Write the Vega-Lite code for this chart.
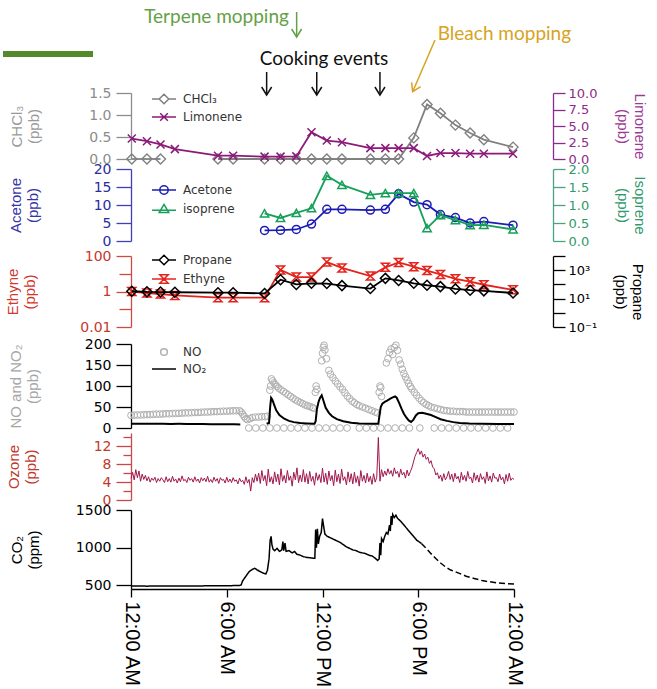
{
"$schema": "https://vega.github.io/schema/vega-lite/v6.json",
"padding": {"left": 0, "top": 0, "right": 12, "bottom": 0},
"background": "white",
"autosize": {"type": "pad"},
"spacing": 0,
"bounds": "flush",
"datasets": {
"ann": [
{"k":"bar","grp":"bar","h":-8.02,"h2":-2.38,"v":34},
{"k":"text","grp":"terpene","h":5.36,"v":71.5,"t":"Terpene mopping"},
{"k":"arrow","grp":"terpene","h":10.38,"v":76,"h2":10.38,"v2":51},
{"k":"text","grp":"cook","h":12.09,"v":29.5,"t":"Cooking events"},
{"k":"arrow","grp":"cook","h":8.5,"v":16,"h2":8.5,"v2":-7},
{"k":"arrow","grp":"cook","h":11.64,"v":16,"h2":11.64,"v2":-7},
{"k":"arrow","grp":"cook","h":15.6,"v":16,"h2":15.6,"v2":-7},
{"k":"text","grp":"bleach","h":23.4,"v":54.5,"t":"Bleach mopping"},
{"k":"arrow","grp":"bleach","h":19.05,"v":48,"h2":17.65,"v2":-3.7}
],
"voc": [
{"s":"CHCl₃","h":0.05,"v":0,"g":1},{"s":"CHCl₃","h":1.0,"v":0,"g":1},{"s":"CHCl₃","h":1.85,"v":0,"g":1},
{"s":"CHCl₃","h":5.45,"v":0,"g":2},{"s":"CHCl₃","h":6.4,"v":0,"g":2},{"s":"CHCl₃","h":8.37,"v":0,"g":2},{"s":"CHCl₃","h":9.37,"v":0,"g":2},{"s":"CHCl₃","h":10.36,"v":0,"g":2},{"s":"CHCl₃","h":11.31,"v":0,"g":2},{"s":"CHCl₃","h":12.27,"v":0,"g":2},{"s":"CHCl₃","h":13.22,"v":0,"g":2},{"s":"CHCl₃","h":15.0,"v":0,"g":2},{"s":"CHCl₃","h":15.94,"v":0,"g":2},{"s":"CHCl₃","h":16.77,"v":0,"g":2},{"s":"CHCl₃","h":17.72,"v":0.48,"g":2},{"s":"CHCl₃","h":18.55,"v":1.24,"g":2},{"s":"CHCl₃","h":19.39,"v":1.04,"g":2},{"s":"CHCl₃","h":20.33,"v":0.77,"g":2},{"s":"CHCl₃","h":21.25,"v":0.59,"g":2},{"s":"CHCl₃","h":22.11,"v":0.44,"g":2},{"s":"CHCl₃","h":23.94,"v":0.27,"g":2},
{"s":"Limonene","h":0.05,"v":3.1},{"s":"Limonene","h":1.0,"v":2.7},{"s":"Limonene","h":1.85,"v":2.2},{"s":"Limonene","h":2.75,"v":1.5},{"s":"Limonene","h":5.45,"v":0.5},{"s":"Limonene","h":6.4,"v":0.5},{"s":"Limonene","h":8.37,"v":0.36},{"s":"Limonene","h":9.37,"v":0.36},{"s":"Limonene","h":10.36,"v":0.4},{"s":"Limonene","h":11.31,"v":4.05},{"s":"Limonene","h":12.27,"v":2.8},{"s":"Limonene","h":13.22,"v":2.55},{"s":"Limonene","h":15.0,"v":1.65},{"s":"Limonene","h":15.94,"v":1.65},{"s":"Limonene","h":16.77,"v":1.65},{"s":"Limonene","h":17.72,"v":1.65},{"s":"Limonene","h":18.55,"v":0.46},{"s":"Limonene","h":19.39,"v":0.9},{"s":"Limonene","h":20.33,"v":0.9},{"s":"Limonene","h":21.25,"v":0.8},{"s":"Limonene","h":22.11,"v":0.8},{"s":"Limonene","h":23.94,"v":0.8},
{"s":"Acetone","h":8.37,"v":2.94},{"s":"Acetone","h":9.37,"v":3.0},{"s":"Acetone","h":10.36,"v":3.2},{"s":"Acetone","h":11.31,"v":4.7},{"s":"Acetone","h":12.27,"v":8.8},{"s":"Acetone","h":13.22,"v":8.8},{"s":"Acetone","h":15.0,"v":8.6},{"s":"Acetone","h":15.94,"v":8.8},{"s":"Acetone","h":16.77,"v":13.1},{"s":"Acetone","h":17.72,"v":10.8},{"s":"Acetone","h":18.55,"v":10.1},{"s":"Acetone","h":19.39,"v":7.35},{"s":"Acetone","h":20.33,"v":6.5},{"s":"Acetone","h":21.25,"v":5.0},{"s":"Acetone","h":22.11,"v":5.4},{"s":"Acetone","h":23.94,"v":4.4},
{"s":"isoprene","h":8.37,"v":0.77},{"s":"isoprene","h":9.37,"v":0.64},{"s":"isoprene","h":10.36,"v":0.78},{"s":"isoprene","h":11.31,"v":0.91},{"s":"isoprene","h":12.27,"v":1.81},{"s":"isoprene","h":13.22,"v":1.56},{"s":"isoprene","h":15.0,"v":1.28},{"s":"isoprene","h":15.94,"v":1.33},{"s":"isoprene","h":16.77,"v":1.33},{"s":"isoprene","h":17.72,"v":1.33},{"s":"isoprene","h":18.55,"v":0.36},{"s":"isoprene","h":19.39,"v":0.72},{"s":"isoprene","h":20.33,"v":0.58},{"s":"isoprene","h":21.25,"v":0.44},{"s":"isoprene","h":22.11,"v":0.45},{"s":"isoprene","h":23.94,"v":0.32},
{"s":"Ethyne","h":0.05,"v":1.0},{"s":"Ethyne","h":1.0,"v":0.82},{"s":"Ethyne","h":1.85,"v":0.72},{"s":"Ethyne","h":2.75,"v":0.6},{"s":"Ethyne","h":5.45,"v":0.45},{"s":"Ethyne","h":6.4,"v":0.45},{"s":"Ethyne","h":8.37,"v":0.45},{"s":"Ethyne","h":9.37,"v":16.5},{"s":"Ethyne","h":10.36,"v":6.5},{"s":"Ethyne","h":11.31,"v":6.5},{"s":"Ethyne","h":12.27,"v":45.6},{"s":"Ethyne","h":13.22,"v":21.2},{"s":"Ethyne","h":15.0,"v":7.4},{"s":"Ethyne","h":15.94,"v":23},{"s":"Ethyne","h":16.77,"v":43.7},{"s":"Ethyne","h":17.72,"v":25},{"s":"Ethyne","h":18.55,"v":15},{"s":"Ethyne","h":19.39,"v":9.1},{"s":"Ethyne","h":20.33,"v":5.2},{"s":"Ethyne","h":21.25,"v":3.6},{"s":"Ethyne","h":22.11,"v":2.4},{"s":"Ethyne","h":23.94,"v":1.24},
{"s":"Propane","h":0.05,"v":33},{"s":"Propane","h":1.0,"v":30},{"s":"Propane","h":1.85,"v":29},{"s":"Propane","h":2.75,"v":28},{"s":"Propane","h":5.45,"v":26},{"s":"Propane","h":6.4,"v":26},{"s":"Propane","h":8.37,"v":23},{"s":"Propane","h":9.37,"v":213},{"s":"Propane","h":10.36,"v":99},{"s":"Propane","h":11.31,"v":120},{"s":"Propane","h":12.27,"v":115},{"s":"Propane","h":13.22,"v":82},{"s":"Propane","h":15.0,"v":51},{"s":"Propane","h":15.94,"v":266},{"s":"Propane","h":16.77,"v":190},{"s":"Propane","h":17.72,"v":120},{"s":"Propane","h":18.55,"v":87},{"s":"Propane","h":19.39,"v":70},{"s":"Propane","h":20.33,"v":48},{"s":"Propane","h":21.25,"v":39},{"s":"Propane","h":22.11,"v":35},{"s":"Propane","h":23.94,"v":25}
],
"nox": [
{"s":"NO","h":0,"v":30},{"s":"NO","h":0.2,"v":30.5},{"s":"NO","h":0.4,"v":31},{"s":"NO","h":0.6,"v":31},{"s":"NO","h":0.8,"v":31.5},{"s":"NO","h":1,"v":32},{"s":"NO","h":1.2,"v":32},{"s":"NO","h":1.4,"v":32.5},{"s":"NO","h":1.6,"v":33},{"s":"NO","h":1.8,"v":33},{"s":"NO","h":2,"v":33.5},{"s":"NO","h":2.2,"v":34},{"s":"NO","h":2.4,"v":34},{"s":"NO","h":2.6,"v":34.5},{"s":"NO","h":2.8,"v":35},{"s":"NO","h":3,"v":35},{"s":"NO","h":3.2,"v":35.5},{"s":"NO","h":3.4,"v":36},{"s":"NO","h":3.6,"v":36},{"s":"NO","h":3.8,"v":36.5},{"s":"NO","h":4,"v":37},{"s":"NO","h":4.2,"v":37},{"s":"NO","h":4.4,"v":37.5},{"s":"NO","h":4.6,"v":38},{"s":"NO","h":4.8,"v":38},{"s":"NO","h":5,"v":38.5},{"s":"NO","h":5.2,"v":39},{"s":"NO","h":5.4,"v":39},{"s":"NO","h":5.6,"v":39.5},{"s":"NO","h":5.8,"v":40},{"s":"NO","h":6,"v":40},{"s":"NO","h":6.2,"v":40.5},{"s":"NO","h":6.4,"v":41},{"s":"NO","h":6.6,"v":41},{"s":"NO","h":6.8,"v":41},{"s":"NO","h":6.9,"v":38},{"s":"NO","h":7,"v":33},{"s":"NO","h":7.1,"v":27},{"s":"NO","h":7.2,"v":22},{"s":"NO","h":7.3,"v":20},{"s":"NO","h":7.45,"v":22},{"s":"NO","h":7.6,"v":25},{"s":"NO","h":7.8,"v":26},{"s":"NO","h":8,"v":26},{"s":"NO","h":8.2,"v":27},{"s":"NO","h":8.4,"v":27},{"s":"NO","h":8.55,"v":28},
{"s":"NO","h":8.7,"v":90},{"s":"NO","h":8.75,"v":100},{"s":"NO","h":8.8,"v":117},{"s":"NO","h":8.88,"v":112},{"s":"NO","h":8.96,"v":107},{"s":"NO","h":9.05,"v":103},{"s":"NO","h":9.15,"v":99},{"s":"NO","h":9.25,"v":95},{"s":"NO","h":9.4,"v":91},{"s":"NO","h":9.55,"v":87},{"s":"NO","h":9.7,"v":83},{"s":"NO","h":9.85,"v":79},{"s":"NO","h":10,"v":75},{"s":"NO","h":10.15,"v":71},{"s":"NO","h":10.3,"v":67},{"s":"NO","h":10.45,"v":64},{"s":"NO","h":10.6,"v":61},{"s":"NO","h":10.75,"v":58},{"s":"NO","h":10.9,"v":55},{"s":"NO","h":11.05,"v":53},{"s":"NO","h":11.2,"v":51},{"s":"NO","h":11.35,"v":49},{"s":"NO","h":11.45,"v":47},
{"s":"NO","h":11.55,"v":85},{"s":"NO","h":11.6,"v":100},{"s":"NO","h":11.65,"v":92},
{"s":"NO","h":11.95,"v":160},{"s":"NO","h":12,"v":178},{"s":"NO","h":12.05,"v":192},{"s":"NO","h":12.1,"v":197},{"s":"NO","h":12.15,"v":186},{"s":"NO","h":12.25,"v":165},{"s":"NO","h":12.4,"v":137},{"s":"NO","h":12.5,"v":128},{"s":"NO","h":12.65,"v":120},{"s":"NO","h":12.8,"v":112},{"s":"NO","h":12.95,"v":105},{"s":"NO","h":13.1,"v":98},{"s":"NO","h":13.25,"v":92},{"s":"NO","h":13.4,"v":84},{"s":"NO","h":13.55,"v":76},{"s":"NO","h":13.7,"v":70},{"s":"NO","h":13.85,"v":64},{"s":"NO","h":14,"v":60},{"s":"NO","h":14.15,"v":56},{"s":"NO","h":14.3,"v":53},{"s":"NO","h":14.5,"v":50},{"s":"NO","h":14.7,"v":47},{"s":"NO","h":14.9,"v":44},{"s":"NO","h":15.1,"v":41},{"s":"NO","h":15.3,"v":38},{"s":"NO","h":15.45,"v":36},
{"s":"NO","h":15.55,"v":85},{"s":"NO","h":15.6,"v":100},{"s":"NO","h":15.65,"v":96},{"s":"NO","h":15.7,"v":75},
{"s":"NO","h":16,"v":155},{"s":"NO","h":16.1,"v":165},{"s":"NO","h":16.2,"v":180},{"s":"NO","h":16.3,"v":188},{"s":"NO","h":16.4,"v":175},{"s":"NO","h":16.5,"v":192},{"s":"NO","h":16.6,"v":197},{"s":"NO","h":16.7,"v":185},{"s":"NO","h":16.8,"v":162},{"s":"NO","h":16.9,"v":152},{"s":"NO","h":17,"v":140},{"s":"NO","h":17.1,"v":130},{"s":"NO","h":17.2,"v":122},{"s":"NO","h":17.3,"v":114},{"s":"NO","h":17.4,"v":106},{"s":"NO","h":17.5,"v":99},{"s":"NO","h":17.6,"v":93},{"s":"NO","h":17.75,"v":85},{"s":"NO","h":17.9,"v":78},{"s":"NO","h":18.05,"v":71},{"s":"NO","h":18.2,"v":65},{"s":"NO","h":18.35,"v":60},{"s":"NO","h":18.5,"v":56},{"s":"NO","h":18.65,"v":53},{"s":"NO","h":18.8,"v":50},{"s":"NO","h":19,"v":48},{"s":"NO","h":19.2,"v":46},{"s":"NO","h":19.4,"v":44},{"s":"NO","h":19.6,"v":42},{"s":"NO","h":19.8,"v":41},{"s":"NO","h":20,"v":40},{"s":"NO","h":20.2,"v":40},{"s":"NO","h":20.4,"v":39},{"s":"NO","h":20.6,"v":39},{"s":"NO","h":20.8,"v":39},{"s":"NO","h":21,"v":38},{"s":"NO","h":21.2,"v":38},{"s":"NO","h":21.4,"v":38},{"s":"NO","h":21.6,"v":38},{"s":"NO","h":21.8,"v":38},{"s":"NO","h":22,"v":38},{"s":"NO","h":22.2,"v":38},{"s":"NO","h":22.4,"v":38},{"s":"NO","h":22.6,"v":38},{"s":"NO","h":22.8,"v":38},{"s":"NO","h":23,"v":38},{"s":"NO","h":23.2,"v":38},{"s":"NO","h":23.4,"v":38},{"s":"NO","h":23.6,"v":38},{"s":"NO","h":23.8,"v":38},{"s":"NO","h":24,"v":38},
{"s":"NO","h":7.38,"v":0},{"s":"NO","h":7.82,"v":0},{"s":"NO","h":8.26,"v":0},{"s":"NO","h":8.7,"v":0},{"s":"NO","h":9.14,"v":0},{"s":"NO","h":9.58,"v":0},{"s":"NO","h":10.02,"v":0},{"s":"NO","h":10.46,"v":0},{"s":"NO","h":10.9,"v":0},{"s":"NO","h":11.34,"v":0},{"s":"NO","h":11.78,"v":0},{"s":"NO","h":12.22,"v":0},{"s":"NO","h":12.66,"v":0},{"s":"NO","h":13.1,"v":0},{"s":"NO","h":13.54,"v":0},{"s":"NO","h":14.3,"v":0},{"s":"NO","h":14.75,"v":0},{"s":"NO","h":15.2,"v":0},{"s":"NO","h":15.65,"v":0},{"s":"NO","h":16.1,"v":0},{"s":"NO","h":16.55,"v":0},{"s":"NO","h":17.0,"v":0},{"s":"NO","h":17.45,"v":0},{"s":"NO","h":18.1,"v":0},{"s":"NO","h":19.0,"v":0},{"s":"NO","h":19.46,"v":0},{"s":"NO","h":19.92,"v":0},{"s":"NO","h":20.38,"v":0},{"s":"NO","h":20.84,"v":0},{"s":"NO","h":21.3,"v":0},{"s":"NO","h":21.76,"v":0},{"s":"NO","h":22.22,"v":0},{"s":"NO","h":22.68,"v":0},{"s":"NO","h":23.14,"v":0},{"s":"NO","h":23.6,"v":0},
{"s":"NO₂","g":1,"h":0,"v":10},{"s":"NO₂","g":1,"h":0.5,"v":10.4},{"s":"NO₂","g":1,"h":1,"v":10},{"s":"NO₂","g":1,"h":1.5,"v":10.1},{"s":"NO₂","g":1,"h":2,"v":10.3},{"s":"NO₂","g":1,"h":2.5,"v":9.8},{"s":"NO₂","g":1,"h":3,"v":9.9},{"s":"NO₂","g":1,"h":3.5,"v":9.6},{"s":"NO₂","g":1,"h":4,"v":9.5},{"s":"NO₂","g":1,"h":4.5,"v":9.4},{"s":"NO₂","g":1,"h":5,"v":9.2},{"s":"NO₂","g":1,"h":5.5,"v":9.1},{"s":"NO₂","g":1,"h":6,"v":9},{"s":"NO₂","g":1,"h":6.5,"v":8.8},{"s":"NO₂","g":1,"h":6.85,"v":8.6},
{"s":"NO₂","g":2,"h":8.5,"v":10},{"s":"NO₂","g":2,"h":8.65,"v":12},{"s":"NO₂","g":2,"h":8.72,"v":50},{"s":"NO₂","g":2,"h":8.78,"v":72},{"s":"NO₂","g":2,"h":8.85,"v":68},{"s":"NO₂","g":2,"h":9,"v":52},{"s":"NO₂","g":2,"h":9.1,"v":42},{"s":"NO₂","g":2,"h":9.3,"v":31},{"s":"NO₂","g":2,"h":9.6,"v":22},{"s":"NO₂","g":2,"h":9.9,"v":17},{"s":"NO₂","g":2,"h":10.2,"v":14},{"s":"NO₂","g":2,"h":10.6,"v":12},{"s":"NO₂","g":2,"h":11,"v":11},{"s":"NO₂","g":2,"h":11.5,"v":10},{"s":"NO₂","g":2,"h":11.57,"v":16},{"s":"NO₂","g":2,"h":11.65,"v":45},{"s":"NO₂","g":2,"h":11.75,"v":62},{"s":"NO₂","g":2,"h":11.85,"v":72},{"s":"NO₂","g":2,"h":11.95,"v":78},{"s":"NO₂","g":2,"h":12.05,"v":66},{"s":"NO₂","g":2,"h":12.2,"v":48},{"s":"NO₂","g":2,"h":12.4,"v":36},{"s":"NO₂","g":2,"h":12.6,"v":28},{"s":"NO₂","g":2,"h":12.9,"v":21},{"s":"NO₂","g":2,"h":13.3,"v":16},{"s":"NO₂","g":2,"h":13.8,"v":12.5},{"s":"NO₂","g":2,"h":14.3,"v":10.5},{"s":"NO₂","g":2,"h":15,"v":10},{"s":"NO₂","g":2,"h":15.5,"v":10},{"s":"NO₂","g":2,"h":15.57,"v":30},{"s":"NO₂","g":2,"h":15.65,"v":50},{"s":"NO₂","g":2,"h":15.75,"v":58},{"s":"NO₂","g":2,"h":15.9,"v":62},{"s":"NO₂","g":2,"h":16.05,"v":65},{"s":"NO₂","g":2,"h":16.25,"v":70},{"s":"NO₂","g":2,"h":16.4,"v":73},{"s":"NO₂","g":2,"h":16.55,"v":75},{"s":"NO₂","g":2,"h":16.65,"v":72},{"s":"NO₂","g":2,"h":16.8,"v":60},{"s":"NO₂","g":2,"h":16.95,"v":46},{"s":"NO₂","g":2,"h":17.1,"v":34},{"s":"NO₂","g":2,"h":17.25,"v":25},{"s":"NO₂","g":2,"h":17.4,"v":18},{"s":"NO₂","g":2,"h":17.55,"v":14.5},{"s":"NO₂","g":2,"h":17.7,"v":20},{"s":"NO₂","g":2,"h":17.85,"v":30},{"s":"NO₂","g":2,"h":18,"v":35},{"s":"NO₂","g":2,"h":18.25,"v":36},{"s":"NO₂","g":2,"h":18.5,"v":34},{"s":"NO₂","g":2,"h":18.8,"v":31},{"s":"NO₂","g":2,"h":19.1,"v":26},{"s":"NO₂","g":2,"h":19.4,"v":21},{"s":"NO₂","g":2,"h":19.8,"v":17},{"s":"NO₂","g":2,"h":20.2,"v":14},{"s":"NO₂","g":2,"h":20.6,"v":12},{"s":"NO₂","g":2,"h":21.2,"v":10.5},{"s":"NO₂","g":2,"h":22,"v":10},{"s":"NO₂","g":2,"h":23,"v":9.8},{"s":"NO₂","g":2,"h":24,"v":9.8}
],
"o3": [
{"h":0,"v":4.8},{"h":0.1,"v":6.2},{"h":0.2,"v":4.5},{"h":0.3,"v":6.8},{"h":0.4,"v":5.0},{"h":0.5,"v":6.5},{"h":0.6,"v":4.2},{"h":0.7,"v":5.8},{"h":0.8,"v":4.6},{"h":0.9,"v":5.5},
{"h":1,"v":4.3},{"h":1.1,"v":5.2},{"h":1.2,"v":4.0},{"h":1.3,"v":4.9},{"h":1.4,"v":4.4},{"h":1.5,"v":5.1},{"h":1.6,"v":3.9},{"h":1.7,"v":4.8},{"h":1.8,"v":4.2},{"h":1.9,"v":5.0},
{"h":2,"v":4.5},{"h":2.1,"v":3.9},{"h":2.2,"v":5.2},{"h":2.3,"v":4.1},{"h":2.4,"v":4.8},{"h":2.5,"v":4.0},{"h":2.6,"v":5.3},{"h":2.7,"v":4.2},{"h":2.8,"v":4.7},{"h":2.9,"v":3.8},
{"h":3,"v":4.9},{"h":3.1,"v":4.1},{"h":3.2,"v":5.4},{"h":3.3,"v":4.3},{"h":3.4,"v":4.6},{"h":3.5,"v":3.9},{"h":3.6,"v":5.1},{"h":3.7,"v":4.4},{"h":3.8,"v":4.8},{"h":3.9,"v":4.0},
{"h":4,"v":5.2},{"h":4.1,"v":4.2},{"h":4.2,"v":4.7},{"h":4.3,"v":3.8},{"h":4.4,"v":5.0},{"h":4.5,"v":4.3},{"h":4.6,"v":4.9},{"h":4.7,"v":4.1},{"h":4.8,"v":5.3},{"h":4.9,"v":4.0},
{"h":5,"v":4.6},{"h":5.1,"v":3.9},{"h":5.2,"v":5.1},{"h":5.3,"v":4.2},{"h":5.4,"v":4.8},{"h":5.5,"v":3.7},{"h":5.6,"v":5.0},{"h":5.7,"v":4.4},{"h":5.8,"v":4.6},{"h":5.9,"v":3.8},
{"h":6,"v":5.1},{"h":6.1,"v":4.0},{"h":6.2,"v":4.7},{"h":6.3,"v":3.9},{"h":6.4,"v":5.0},{"h":6.5,"v":4.2},{"h":6.6,"v":4.5},{"h":6.7,"v":3.6},{"h":6.8,"v":4.9},{"h":6.9,"v":4.1},
{"h":7,"v":4.4},{"h":7.1,"v":3.5},{"h":7.2,"v":5.2},{"h":7.3,"v":3.8},{"h":7.4,"v":4.6},{"h":7.5,"v":2.0},{"h":7.6,"v":5.0},{"h":7.7,"v":3.9},{"h":7.8,"v":5.8},{"h":7.9,"v":4.2},
{"h":8,"v":6.0},{"h":8.1,"v":3.7},{"h":8.2,"v":6.6},{"h":8.3,"v":4.3},{"h":8.4,"v":5.5},{"h":8.5,"v":3.2},{"h":8.6,"v":6.9},{"h":8.7,"v":4.0},{"h":8.8,"v":5.2},{"h":8.9,"v":3.6},
{"h":9,"v":6.3},{"h":9.1,"v":4.1},{"h":9.2,"v":5.8},{"h":9.3,"v":3.4},{"h":9.4,"v":7.0},{"h":9.5,"v":4.2},{"h":9.6,"v":5.5},{"h":9.7,"v":3.8},{"h":9.8,"v":6.6},{"h":9.9,"v":4.4},
{"h":10,"v":5.4},{"h":10.1,"v":3.1},{"h":10.2,"v":6.2},{"h":10.3,"v":4.5},{"h":10.4,"v":7.2},{"h":10.5,"v":3.9},{"h":10.6,"v":5.6},{"h":10.7,"v":4.1},{"h":10.8,"v":6.8},{"h":10.9,"v":4.0},
{"h":11,"v":5.9},{"h":11.1,"v":3.6},{"h":11.2,"v":6.4},{"h":11.3,"v":4.2},{"h":11.4,"v":5.3},{"h":11.5,"v":3.3},{"h":11.6,"v":6.1},{"h":11.7,"v":4.4},{"h":11.8,"v":5.7},{"h":11.9,"v":3.9},
{"h":12,"v":7.1},{"h":12.1,"v":4.0},{"h":12.2,"v":6.0},{"h":12.3,"v":3.5},{"h":12.4,"v":6.5},{"h":12.5,"v":4.3},{"h":12.6,"v":5.5},{"h":12.7,"v":3.2},{"h":12.8,"v":6.7},{"h":12.9,"v":4.1},
{"h":13,"v":5.8},{"h":13.1,"v":3.7},{"h":13.2,"v":6.9},{"h":13.3,"v":4.4},{"h":13.4,"v":5.2},{"h":13.5,"v":3.4},{"h":13.6,"v":6.3},{"h":13.7,"v":4.0},{"h":13.8,"v":5.9},{"h":13.9,"v":3.6},
{"h":14,"v":6.2},{"h":14.1,"v":3.9},{"h":14.2,"v":5.4},{"h":14.3,"v":3.1},{"h":14.4,"v":6.6},{"h":14.5,"v":4.2},{"h":14.6,"v":5.5},{"h":14.7,"v":3.8},{"h":14.8,"v":6.0},{"h":14.9,"v":4.1},
{"h":15,"v":5.3},{"h":15.1,"v":3.5},{"h":15.2,"v":5.9},{"h":15.3,"v":4.0},{"h":15.4,"v":5.1},{"h":15.5,"v":14.0},{"h":15.6,"v":4.2},{"h":15.7,"v":6.8},{"h":15.8,"v":5.2},{"h":15.9,"v":6.5},
{"h":16,"v":5.5},{"h":16.1,"v":7.0},{"h":16.2,"v":5.8},{"h":16.3,"v":6.6},{"h":16.4,"v":5.3},{"h":16.5,"v":7.2},{"h":16.6,"v":5.9},{"h":16.7,"v":6.4},{"h":16.8,"v":5.1},{"h":16.9,"v":6.9},
{"h":17,"v":5.6},{"h":17.1,"v":6.2},{"h":17.2,"v":4.9},{"h":17.3,"v":6.7},{"h":17.4,"v":5.4},{"h":17.5,"v":6.3},{"h":17.6,"v":7.2},{"h":17.7,"v":8.5},{"h":17.8,"v":9.8},{"h":17.9,"v":10.6},
{"h":18,"v":11.5},{"h":18.1,"v":10.2},{"h":18.2,"v":11.0},{"h":18.3,"v":9.6},{"h":18.4,"v":10.3},{"h":18.5,"v":9.1},{"h":18.6,"v":9.6},{"h":18.7,"v":8.2},{"h":18.8,"v":8.8},{"h":18.9,"v":7.4},
{"h":19,"v":7.0},{"h":19.1,"v":5.6},{"h":19.2,"v":6.1},{"h":19.3,"v":4.8},{"h":19.4,"v":5.6},{"h":19.5,"v":4.2},{"h":19.6,"v":5.9},{"h":19.7,"v":4.5},{"h":19.8,"v":5.2},{"h":19.9,"v":6.4},
{"h":20,"v":4.6},{"h":20.1,"v":5.8},{"h":20.2,"v":4.1},{"h":20.3,"v":6.0},{"h":20.4,"v":4.7},{"h":20.5,"v":5.3},{"h":20.6,"v":3.9},{"h":20.7,"v":6.2},{"h":20.8,"v":4.5},{"h":20.9,"v":5.5},
{"h":21,"v":4.2},{"h":21.1,"v":6.4},{"h":21.2,"v":4.8},{"h":21.3,"v":5.1},{"h":21.4,"v":3.8},{"h":21.5,"v":6.1},{"h":21.6,"v":4.4},{"h":21.7,"v":5.6},{"h":21.8,"v":4.0},{"h":21.9,"v":5.9},
{"h":22,"v":4.6},{"h":22.1,"v":5.2},{"h":22.2,"v":3.7},{"h":22.3,"v":6.3},{"h":22.4,"v":4.3},{"h":22.5,"v":5.4},{"h":22.6,"v":4.0},{"h":22.7,"v":6.0},{"h":22.8,"v":4.9},{"h":22.9,"v":5.0},
{"h":23,"v":4.1},{"h":23.1,"v":5.8},{"h":23.2,"v":4.5},{"h":23.3,"v":5.1},{"h":23.4,"v":3.6},{"h":23.5,"v":5.7},{"h":23.6,"v":4.2},{"h":23.7,"v":6.0},{"h":23.8,"v":4.4},{"h":23.9,"v":4.9},
{"h":24,"v":4.6}
],
"co2": [
{"g":"a","h":0,"v":490},{"g":"a","h":1,"v":488},{"g":"a","h":2,"v":490},{"g":"a","h":3,"v":489},{"g":"a","h":4,"v":491},{"g":"a","h":5,"v":492},{"g":"a","h":6,"v":494},{"g":"a","h":6.8,"v":496},{"g":"a","h":6.9,"v":505},{"g":"a","h":7.0,"v":560},{"g":"a","h":7.2,"v":620},{"g":"a","h":7.4,"v":680},{"g":"a","h":7.6,"v":710},{"g":"a","h":7.75,"v":725},{"g":"a","h":7.9,"v":705},{"g":"a","h":8.1,"v":680},{"g":"a","h":8.3,"v":660},{"g":"a","h":8.45,"v":650},{"g":"a","h":8.55,"v":700},{"g":"a","h":8.65,"v":850},{"g":"a","h":8.72,"v":1100},{"g":"a","h":8.78,"v":1150},{"g":"a","h":8.83,"v":1040},{"g":"a","h":8.9,"v":980},{"g":"a","h":9.0,"v":960},{"g":"a","h":9.15,"v":990},{"g":"a","h":9.3,"v":950},{"g":"a","h":9.45,"v":970},{"g":"a","h":9.52,"v":1080},{"g":"a","h":9.57,"v":960},{"g":"a","h":9.65,"v":1060},{"g":"a","h":9.72,"v":950},{"g":"a","h":9.9,"v":960},{"g":"a","h":10.1,"v":930},{"g":"a","h":10.25,"v":950},{"g":"a","h":10.4,"v":910},{"g":"a","h":10.6,"v":900},{"g":"a","h":10.8,"v":880},{"g":"a","h":11.0,"v":870},{"g":"a","h":11.2,"v":865},{"g":"a","h":11.4,"v":860},{"g":"a","h":11.52,"v":858},{"g":"a","h":11.57,"v":1240},{"g":"a","h":11.62,"v":1000},{"g":"a","h":11.68,"v":1250},{"g":"a","h":11.74,"v":1050},{"g":"a","h":11.82,"v":1150},{"g":"a","h":11.92,"v":1200},{"g":"a","h":12.0,"v":1385},{"g":"a","h":12.06,"v":1300},{"g":"a","h":12.15,"v":1180},{"g":"a","h":12.3,"v":1150},{"g":"a","h":12.5,"v":1130},{"g":"a","h":12.7,"v":1110},{"g":"a","h":12.9,"v":1090},{"g":"a","h":13.1,"v":1070},{"g":"a","h":13.3,"v":1040},{"g":"a","h":13.5,"v":1010},{"g":"a","h":13.7,"v":990},{"g":"a","h":13.9,"v":970},{"g":"a","h":14.1,"v":960},{"g":"a","h":14.3,"v":940},{"g":"a","h":14.5,"v":930},{"g":"a","h":14.7,"v":920},{"g":"a","h":14.9,"v":900},{"g":"a","h":15.1,"v":890},{"g":"a","h":15.3,"v":860},{"g":"a","h":15.45,"v":830},{"g":"a","h":15.55,"v":850},{"g":"a","h":15.6,"v":1060},{"g":"a","h":15.65,"v":900},{"g":"a","h":15.7,"v":1120},{"g":"a","h":15.8,"v":1080},{"g":"a","h":15.9,"v":1150},{"g":"a","h":16.0,"v":1200},{"g":"a","h":16.1,"v":1180},{"g":"a","h":16.2,"v":1300},{"g":"a","h":16.25,"v":1220},{"g":"a","h":16.3,"v":1420},{"g":"a","h":16.35,"v":1300},{"g":"a","h":16.4,"v":1440},{"g":"a","h":16.5,"v":1400},{"g":"a","h":16.6,"v":1430},{"g":"a","h":16.7,"v":1390},{"g":"a","h":16.9,"v":1350},{"g":"a","h":17.1,"v":1300},{"g":"a","h":17.3,"v":1250},{"g":"a","h":17.5,"v":1200},{"g":"a","h":17.7,"v":1150},{"g":"a","h":17.9,"v":1100},{"g":"a","h":18.1,"v":1070},{"g":"a","h":18.2,"v":1055},
{"g":"b","h":18.2,"v":1055},{"g":"b","h":18.5,"v":990},{"g":"b","h":18.8,"v":920},{"g":"b","h":19.1,"v":855},{"g":"b","h":19.4,"v":795},{"g":"b","h":19.7,"v":745},{"g":"b","h":20.0,"v":705},{"g":"b","h":20.5,"v":665},{"g":"b","h":21.0,"v":620},{"g":"b","h":21.5,"v":590},{"g":"b","h":22.0,"v":562},{"g":"b","h":22.5,"v":545},{"g":"b","h":23.0,"v":530},{"g":"b","h":23.5,"v":522},{"g":"b","h":24.0,"v":518}
]
},
"vconcat": [
{
"width": 383, "height": 88,
"data": {"name": "ann"},
"encoding": {
"x": {"field": "h", "type": "quantitative", "scale": {"domain": [0, 24], "nice": false, "zero": false}, "axis": null},
"y": {"field": "v", "type": "quantitative", "scale": {"domain": [0, 88], "nice": false, "zero": false}, "axis": null},
"color": {"field": "grp", "type": "nominal", "scale": {"domain": ["bar", "terpene", "cook", "bleach"], "range": ["#548a2c", "#64a046", "#111111", "#d6a322"]}, "legend": null}
},
"layer": [
{"transform": [{"filter": "datum.k === 'bar'"}], "mark": {"type": "rule", "strokeWidth": 6}, "encoding": {"x2": {"field": "h2"}}},
{"transform": [{"filter": "datum.k === 'arrow'"}], "mark": {"type": "rule", "strokeWidth": 1.5}, "encoding": {"x2": {"field": "h2"}, "y2": {"field": "v2"}}},
{"transform": [{"filter": "datum.k === 'arrow' && datum.grp !== 'bleach'"}], "mark": {"type": "point", "shape": "M-1,-1.6L0,0L1,-1.6", "size": 100, "filled": false, "strokeWidth": 1.5, "opacity": 1}, "encoding": {"x": {"field": "h2", "type": "quantitative"}, "y": {"field": "v2", "type": "quantitative"}}},
{"transform": [{"filter": "datum.k === 'arrow' && datum.grp === 'bleach'"}], "mark": {"type": "point", "shape": "M-1,-1.6L0,0L1,-1.6", "size": 100, "filled": false, "strokeWidth": 1.5, "opacity": 1, "angle": 25.6}, "encoding": {"x": {"field": "h2", "type": "quantitative"}, "y": {"field": "v2", "type": "quantitative"}}},
{"transform": [{"filter": "datum.k === 'text'"}], "mark": {"type": "text", "font": "Lato", "fontSize": 19, "align": "center", "baseline": "middle"}, "encoding": {"text": {"field": "t"}}}
]
},
{
"width": 383, "height": 71,
"data": {"name": "voc"},
"encoding": {"x": {"field": "h", "type": "quantitative", "scale": {"domain": [0, 24], "nice": false, "zero": false}, "axis": null}},
"layer": [
{
"transform": [{"filter": "datum.s === 'CHCl₃'"}],
"encoding": {
"y": {"field": "v", "type": "quantitative", "scale": {"domain": [0, 1.5], "range": [71, 5], "nice": false, "zero": false},
"axis": {"orient": "left", "values": [0, 0.5, 1, 1.5], "format": ".1f", "title": ["CHCl₃", "(ppb)"], "titleColor": "#9a9a9a", "domainColor": "#8c8c8c", "tickColor": "#8c8c8c", "labelColor": "#8c8c8c", "titlePadding": 47}},
"color": {"field": "s", "type": "nominal", "scale": {"domain": ["CHCl₃", "Limonene"], "range": ["#808080", "#8b1a7a"]},
"legend": {"title": null, "orient": "none", "legendX": 26, "legendY": 4}}
},
"layer": [
{"mark": {"type": "line", "strokeWidth": 1.8}, "encoding": {"detail": {"field": "g", "type": "nominal"}}},
{"mark": {"type": "point", "shape": "diamond", "size": 100, "filled": false, "strokeWidth": 1.4, "opacity": 1}},
{"mark": {"type": "point", "filled": false, "opacity": 0}, "encoding": {"shape": {"field": "s", "type": "nominal", "scale": {"domain": ["CHCl₃", "Limonene"], "range": ["M-2,0H-0.8M0.8,0H2M0,-0.8L0.8,0L0,0.8L-0.8,0Z", "M-2,0H2M-0.64,-0.64L0.64,0.64M-0.64,0.64L0.64,-0.64"]}, "legend": {"title": null, "orient": "none", "legendX": 26, "legendY": 4}}}}
]
},
{
"transform": [{"filter": "datum.s === 'Limonene'"}],
"encoding": {
"y": {"field": "v", "type": "quantitative", "scale": {"domain": [0, 10], "range": [71, 5], "nice": false, "zero": false},
"axis": {"orient": "right", "offset": 39, "values": [0, 2.5, 5, 7.5, 10], "format": ".1f", "title": ["Limonene", "(ppb)"], "titleColor": "#9b3a96", "domainColor": "#8e2a8a", "tickColor": "#8e2a8a", "labelColor": "#8e2a8a", "titlePadding": 18}},
"color": {"field": "s", "type": "nominal"}
},
"layer": [
{"mark": {"type": "line", "strokeWidth": 1.8}},
{"mark": {"type": "point", "shape": "M-1,-1L1,1M-1,1L1,-1", "size": 64, "filled": false, "strokeWidth": 1.5, "opacity": 1}}
]
}
],
"resolve": {"scale": {"y": "independent"}}
},
{
"width": 383, "height": 82,
"data": {"name": "voc"},
"encoding": {"x": {"field": "h", "type": "quantitative", "scale": {"domain": [0, 24], "nice": false, "zero": false}, "axis": null}},
"layer": [
{
"transform": [{"filter": "datum.s === 'Acetone'"}],
"encoding": {
"y": {"field": "v", "type": "quantitative", "scale": {"domain": [0, 20], "range": [82, 10], "nice": false, "zero": false},
"axis": {"orient": "left", "values": [0, 5, 10, 15, 20], "title": ["Acetone", "(ppb)"], "titleColor": "#3434a8", "domainColor": "#4040b4", "tickColor": "#4040b4", "labelColor": "#2c2c9e", "titlePadding": 53}},
"color": {"field": "s", "type": "nominal", "scale": {"domain": ["Acetone", "isoprene"], "range": ["#1c1cb4", "#16a05a"]},
"legend": {"title": null, "orient": "none", "legendX": 26, "legendY": 24}}
},
"layer": [
{"mark": {"type": "line", "strokeWidth": 1.8}},
{"mark": {"type": "point", "shape": "circle", "size": 64, "filled": false, "strokeWidth": 1.5, "opacity": 1}},
{"mark": {"type": "point", "filled": false, "opacity": 0}, "encoding": {"shape": {"field": "s", "type": "nominal", "scale": {"domain": ["Acetone", "isoprene"], "range": ["M-2,0H2M-0.7,0A0.7,0.7,0,1,1,0.7,0A0.7,0.7,0,1,1,-0.7,0", "M-2,0.2H2M0,-0.76L0.8,0.6L-0.8,0.6Z"]}, "legend": {"title": null, "orient": "none", "legendX": 26, "legendY": 24}}}}
]
},
{
"transform": [{"filter": "datum.s === 'isoprene'"}],
"encoding": {
"y": {"field": "v", "type": "quantitative", "scale": {"domain": [0, 2], "range": [82, 10], "nice": false, "zero": false},
"axis": {"orient": "right", "offset": 39, "values": [0, 0.5, 1, 1.5, 2], "format": ".1f", "title": ["Isoprene", "(ppb)"], "titleColor": "#2f9a6b", "domainColor": "#4aa383", "tickColor": "#4aa383", "labelColor": "#2f9a6b", "titlePadding": 26}},
"color": {"field": "s", "type": "nominal"}
},
"layer": [
{"mark": {"type": "line", "strokeWidth": 1.8}},
{"mark": {"type": "point", "shape": "triangle-up", "size": 70, "filled": false, "strokeWidth": 1.5, "opacity": 1}}
]
}
],
"resolve": {"scale": {"y": "independent"}}
},
{
"width": 383, "height": 86,
"data": {"name": "voc"},
"encoding": {"x": {"field": "h", "type": "quantitative", "scale": {"domain": [0, 24], "nice": false, "zero": false}, "axis": null}},
"layer": [
{
"transform": [{"filter": "datum.s === 'Ethyne'"}],
"encoding": {
"y": {"field": "v", "type": "quantitative", "scale": {"type": "log", "domain": [0.01, 100], "range": [86, 15], "nice": false},
"axis": {"orient": "left", "values": [0.01, 0.1, 1, 10, 100], "labelExpr": "datum.value > 99 ? '100' : (datum.value > 0.9 && datum.value < 1.1) ? '1' : datum.value < 0.011 ? '0.01' : ''", "tickSize": {"condition": {"test": "datum.value > 99 || (datum.value > 0.9 && datum.value < 1.1) || datum.value < 0.011", "value": 15}, "value": 12}, "title": ["Ethyne", "(ppb)"], "titleColor": "#d0392f", "domainColor": "#cc4b43", "tickColor": "#cc4b43", "labelColor": "#c8372d", "titlePadding": 42}},
"color": {"field": "s", "type": "nominal", "scale": {"domain": ["Propane", "Ethyne"], "range": ["#000000", "#e3231c"]},
"legend": {"title": null, "orient": "none", "legendX": 26, "legendY": 12}}
},
"layer": [
{"mark": {"type": "line", "strokeWidth": 1.8}},
{"mark": {"type": "point", "shape": "M-1,-1H1L-1,1H1Z", "size": 64, "filled": false, "strokeWidth": 1.5, "opacity": 1}},
{"mark": {"type": "point", "filled": false, "opacity": 0}, "encoding": {"shape": {"field": "s", "type": "nominal", "scale": {"domain": ["Propane", "Ethyne"], "range": ["M-2,0H-0.8M0.8,0H2M0,-0.8L0.8,0L0,0.8L-0.8,0Z", "M-2,0H2M-0.7,-0.7H0.7L-0.7,0.7H0.7Z"]}, "legend": {"title": null, "orient": "none", "legendX": 26, "legendY": 12}}}}
]
},
{
"transform": [{"filter": "datum.s === 'Propane'"}],
"encoding": {
"y": {"field": "v", "type": "quantitative", "scale": {"type": "log", "domain": [0.1, 10000], "range": [86, 15], "nice": false},
"axis": {"orient": "right", "offset": 39, "values": [0.1, 1, 10, 100, 1000, 10000], "labelExpr": "datum.value < 0.11 ? '10⁻¹' : (datum.value > 9 && datum.value < 11) ? '10¹' : (datum.value > 900 && datum.value < 1100) ? '10³' : ''", "title": ["Propane", "(ppb)"], "titleColor": "#000000", "domainColor": "#000000", "tickColor": "#000000", "labelColor": "#000000", "titlePadding": 16}},
"color": {"field": "s", "type": "nominal"}
},
"layer": [
{"mark": {"type": "line", "strokeWidth": 1.8}},
{"mark": {"type": "point", "shape": "diamond", "size": 100, "filled": false, "strokeWidth": 1.5, "opacity": 1}}
]
}
],
"resolve": {"scale": {"y": "independent"}}
},
{
"width": 383, "height": 101,
"data": {"name": "nox"},
"encoding": {
"x": {"field": "h", "type": "quantitative", "scale": {"domain": [0, 24], "nice": false, "zero": false}, "axis": null},
"y": {"field": "v", "type": "quantitative", "scale": {"domain": [0, 200], "range": [101, 17], "nice": false, "zero": false},
"axis": {"values": [0, 50, 100, 150, 200], "title": ["NO and NO₂", "(ppb)"], "titleColor": "#a6a6a6", "domainColor": "#000000", "tickColor": "#000000", "labelColor": "#000000", "titlePadding": 44}},
"color": {"field": "s", "type": "nominal", "scale": {"domain": ["NO", "NO₂"], "range": ["#b0b0b0", "#000000"]},
"legend": {"title": null, "orient": "none", "legendX": 26, "legendY": 18}}
},
"layer": [
{"transform": [{"filter": "datum.s === 'NO'"}], "mark": {"type": "point", "shape": "circle", "size": 45, "filled": false, "strokeWidth": 1, "opacity": 1}},
{"transform": [{"filter": "datum.s === 'NO₂'"}], "mark": {"type": "line", "strokeWidth": 2}, "encoding": {"detail": {"field": "g", "type": "nominal"}}},
{"mark": {"type": "point", "filled": false, "opacity": 0}, "encoding": {"shape": {"field": "s", "type": "nominal", "scale": {"domain": ["NO", "NO₂"], "range": ["M0.56,0A0.56,0.56,0,1,1,-0.56,0A0.56,0.56,0,1,1,0.56,0", "M-2,0H2"]}, "legend": {"title": null, "orient": "none", "legendX": 26, "legendY": 18}}}}
]
},
{
"width": 383, "height": 72,
"data": {"name": "o3"},
"mark": {"type": "line", "strokeWidth": 1, "color": "#a0184e"},
"encoding": {
"x": {"field": "h", "type": "quantitative", "scale": {"domain": [0, 24], "nice": false, "zero": false}, "axis": null},
"y": {"field": "v", "type": "quantitative", "scale": {"domain": [0, 15], "range": [72, 5], "nice": false, "zero": false},
"axis": {"values": [0, 2, 4, 6, 8, 10, 12, 14], "labelExpr": "datum.value % 4 === 0 ? datum.label : ''", "tickSize": {"condition": {"test": "datum.value % 4 === 0", "value": 15}, "value": 8}, "title": ["Ozone", "(ppb)"], "titleColor": "#c0392b", "domainColor": "#c9484a", "tickColor": "#c9484a", "labelColor": "#c0392b", "titlePadding": 55}}
}
},
{
"width": 383, "height": 89,
"data": {"name": "co2"},
"mark": {"type": "line", "strokeWidth": 1.5, "color": "#000000"},
"encoding": {
"x": {"field": "h", "type": "quantitative", "scale": {"domain": [0, 24], "nice": false, "zero": false},
"axis": {"values": [0, 6, 12, 18, 24], "labelExpr": "datum.value === 0 || datum.value === 24 ? '12:00 AM' : datum.value === 6 ? '6:00 AM' : datum.value === 12 ? '12:00 PM' : '6:00 PM'", "labelAngle": 90, "labelAlign": "left", "labelBaseline": "middle", "labelFont": "Liberation Sans", "labelFontSize": 20, "tickSize": 8, "labelPadding": 4, "title": null, "labelFlush": false, "domainColor": "#000000", "tickColor": "#000000", "labelColor": "#000000", "domainWidth": 1.5}},
"y": {"field": "v", "type": "quantitative", "scale": {"domain": [450, 1500], "range": [89, 10], "nice": false, "zero": false},
"axis": {"values": [500, 1000, 1500], "format": "d", "title": ["CO₂", "(ppm)"], "titleColor": "#000000", "domainColor": "#000000", "tickColor": "#000000", "labelColor": "#000000", "titlePadding": 34}},
"strokeDash": {"field": "g", "type": "nominal", "scale": {"domain": ["a", "b"], "range": [[1, 0], [6, 3]]}, "legend": null}
}
}
],
"resolve": {"scale": {"color": "independent", "shape": "independent", "strokeDash": "independent", "x": "independent", "y": "independent"}},
"config": {
"view": {"stroke": null},
"font": "Liberation Sans",
"axis": {"grid": false, "labelFont": "DejaVu Sans", "labelFontSize": 14, "titleFont": "Liberation Sans", "titleFontSize": 15, "titleFontWeight": "normal", "tickSize": 15, "labelPadding": 5, "domainWidth": 1.3, "tickWidth": 1.3, "labelOverlap": false},
"axisRight": {"tickSize": 12, "labelPadding": 3, "labelFontSize": 13},
"legend": {"labelFont": "DejaVu Sans", "labelFontSize": 12, "labelColor": "#333333", "symbolSize": 144, "padding": 0, "rowPadding": 3, "labelOffset": 12, "symbolStrokeWidth": 1.5, "symbolOpacity": 1, "symbolFillColor": "transparent"}
}
}
